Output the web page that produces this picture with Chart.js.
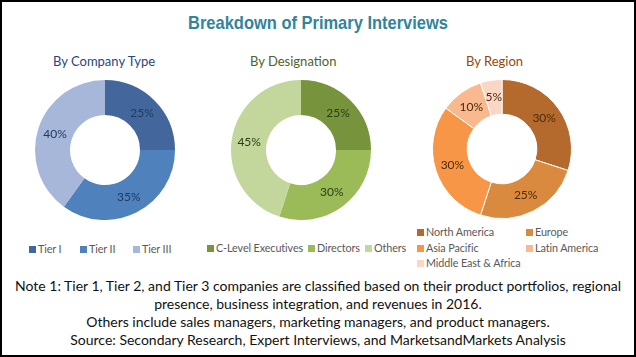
<!DOCTYPE html>
<html><head><meta charset="utf-8">
<script src="https://cdn.jsdelivr.net/npm/chart.js@4.4.1/dist/chart.umd.min.js"></script>
<style>
html,body{margin:0;padding:0;background:#fff;}
#frame{position:relative;width:636px;height:357px;box-sizing:border-box;border:2px solid #000;overflow:hidden;font-family:Lato,"Open Sans",sans-serif;}
.abs{position:absolute;white-space:nowrap;}
canvas{position:absolute;}
.lg{position:absolute;white-space:nowrap;font-family:Lato,sans-serif;font-size:10.8px;letter-spacing:-0.1px;color:#595959;line-height:12px;}
.sq{display:inline-block;width:7px;height:7px;margin-right:2px;vertical-align:0px;}
.foot{position:absolute;left:0;width:632px;text-align:center;color:#111;font-family:Lato,sans-serif;font-size:14px;line-height:16px;}
</style></head>
<body><div id="frame"></div>
<script>
const mainTitle = "Breakdown of Primary Interviews";
const companyLabels = ["Tier I","Tier II","Tier III"];
const companyValues = [25,35,40];
const designationLabels = ["C-Level Executives","Directors","Others"];
const designationValues = [25,30,45];
const regionLabels = ["North America","Europe","Asia Pacific","Latin America","Middle East & Africa"];
const regionValues = [30,25,30,10,5];
const footLines = [
 "Note 1: Tier 1, Tier 2, and Tier 3 companies are classified based on their product portfolios, regional",
 "presence, business integration, and revenues in 2016.",
 "Others include sales managers, marketing managers, and product managers.",
 "Source: Secondary Research, Expert Interviews, and MarketsandMarkets Analysis"
];

const frame = document.getElementById('frame');
function addText(txt, css){
  const d=document.createElement('div'); d.className='abs'; d.textContent=txt;
  Object.assign(d.style, css); frame.appendChild(d); return d;
}
// title
addText(mainTitle,{left:'0',width:'632px',textAlign:'center',top:'10px',fontFamily:'"Liberation Sans",Arial,sans-serif',fontWeight:'bold',fontSize:'18.5px',color:'#31849B',transform:'scaleX(0.89)',transformOrigin:'center'});

const pctPlugin = {
  id:'pct',
  afterDatasetsDraw(chart){
    const ctx=chart.ctx; const meta=chart.getDatasetMeta(0);
    const col=chart.options.plugins.pct.color;
    ctx.save(); ctx.font='12px Lato, sans-serif'; ctx.fillStyle=col;
    ctx.textAlign='center'; ctx.textBaseline='middle';
    meta.data.forEach((arc,i)=>{
      const p=arc.getCenterPoint();
      ctx.fillText(chart.data.datasets[0].data[i]+'%', p.x, p.y);
    });
    ctx.restore();
  }
};

function makeDonut(cfg){
  const size=cfg.r*2;
  const c=document.createElement('canvas');
  c.width=size; c.height=size;
  c.style.left=(cfg.cx-cfg.r-2)+'px'; c.style.top=(cfg.cy-cfg.r-2)+'px';
  c.style.width=size+'px'; c.style.height=size+'px';
  frame.appendChild(c);
  new Chart(c,{
    type:'doughnut',
    data:{labels:cfg.labels,datasets:[{data:cfg.values,backgroundColor:cfg.colors,borderColor:'#fff',borderWidth:cfg.bw}]},
    options:{responsive:false,animation:false,cutout:'50%',
      layout:{padding:0},
      plugins:{legend:{display:false},tooltip:{enabled:false},pct:{color:cfg.labelColor}}},
    plugins:[pctPlugin]
  });
  addText(cfg.title,{left:(cfg.tx-2)+'px',top:(cfg.ty-2)+'px',fontFamily:'Lato,sans-serif',fontSize:'13px',color:cfg.titleColor});
  cfg.legend.forEach((it,i)=>{
    const d=document.createElement('div'); d.className='lg';
    d.style.left=(it[0]-2)+'px'; d.style.top=(it[1]-2-6)+'px';
    const s=document.createElement('span'); s.className='sq'; s.style.background=cfg.legendColors[i];
    d.appendChild(s); d.appendChild(document.createTextNode(cfg.labels[i]));
    frame.appendChild(d);
  });
}

makeDonut({cx:104.5,cy:149.5,r:70,labels:companyLabels,values:companyValues,
  colors:['#43679C','#4F81BD','#A7B7DA'],legendColors:['#43679C','#4F81BD','#A7B7DA'],bw:0,
  labelColor:'#1F3A60',title:'By Company Type',titleColor:'#1F497D',tx:53,ty:53,
  legend:[[29,249],[80,249],[133,249]]});
makeDonut({cx:300.5,cy:150,r:70,labels:designationLabels,values:designationValues,
  colors:['#77933C','#9BBB59','#C3D69B'],legendColors:['#77933C','#9BBB59','#C3D69B'],bw:0,
  labelColor:'#2E3B17',title:'By Designation',titleColor:'#4F6228',tx:250,ty:53,
  legend:[[207,248],[308,248],[365,248]]});
makeDonut({cx:501.5,cy:149,r:70,labels:regionLabels,values:regionValues,
  colors:['#B46A2C','#DA8A3F','#F79646','#F9B98F','#FAD7C5'],legendColors:['#B46A2C','#DA8A3F','#F79646','#F9B98F','#FAD7C5'],bw:1,
  labelColor:'#4A2A0C',title:'By Region',titleColor:'#984807',tx:466,ty:53,
  legend:[[417,232],[526,232],[417,248],[526,248],[417,263]]});

footLines.forEach((t,i)=>{
  const d=document.createElement('div'); d.className='foot'; d.textContent=t;
  d.style.top=([286,304,322,340][i]-2-8)+'px'; frame.appendChild(d);
});
</script>
</body></html>
